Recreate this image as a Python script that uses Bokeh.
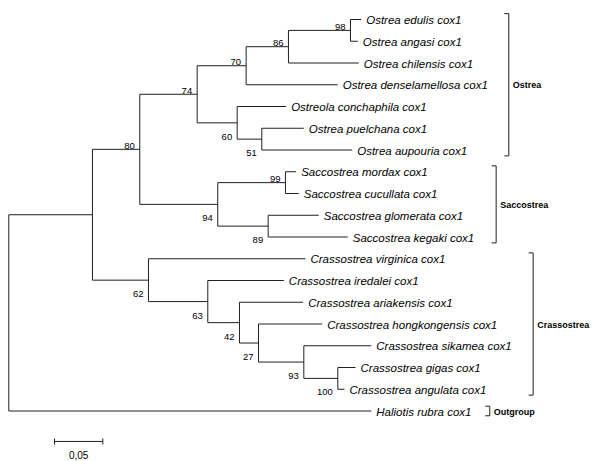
from bokeh.plotting import figure
from bokeh.models import Range1d
from bokeh.core.properties import value
from bokeh.embed import file_html
from bokeh.resources import INLINE

# ---------------- data: tree (preorder), branch lengths, bootstrap ----------------
node_id = [
    "root", "n_in", "n80", "n74", "n70", "n86", "n98",
    "Ostrea edulis cox1", "Ostrea angasi cox1", "Ostrea chilensis cox1",
    "Ostrea denselamellosa cox1", "n60", "Ostreola conchaphila cox1", "n51",
    "Ostrea puelchana cox1", "Ostrea aupouria cox1",
    "n94", "n99", "Saccostrea mordax cox1", "Saccostrea cucullata cox1", "n89",
    "Saccostrea glomerata cox1", "Saccostrea kegaki cox1",
    "n62", "Crassostrea virginica cox1", "n63", "Crassostrea iredalei cox1", "n42",
    "Crassostrea ariakensis cox1", "n27", "Crassostrea hongkongensis cox1", "n93",
    "Crassostrea sikamea cox1", "n100", "Crassostrea gigas cox1",
    "Crassostrea angulata cox1", "Haliotis rubra cox1",
]
parent = [
    None, "root", "n_in", "n80", "n74", "n70", "n86",
    "n98", "n98", "n86",
    "n70", "n74", "n60", "n60",
    "n51", "n51",
    "n80", "n94", "n99", "n99", "n94",
    "n89", "n89",
    "n_in", "n62", "n62", "n63", "n63",
    "n42", "n42", "n27", "n27",
    "n93", "n93", "n100",
    "n100", "root",
]
branch_length = [
    0.0, 0.0866, 0.0490, 0.0594, 0.0507, 0.0438, 0.0642,
    0.0111, 0.0076, 0.0728,
    0.0948, 0.0414, 0.0507, 0.0255,
    0.0435, 0.0936,
    0.0807, 0.0701, 0.0111, 0.0138, 0.0522,
    0.0524, 0.0824,
    0.0580, 0.1625, 0.0614, 0.0787, 0.0328,
    0.0659, 0.0197, 0.0659, 0.0469,
    0.0698, 0.0352, 0.0183,
    0.0069, 0.3752,
]
bootstrap = [
    None, None, 80, 74, 70, 86, 98,
    None, None, None,
    None, 60, None, 51,
    None, None,
    94, 99, None, None, 89,
    None, None,
    62, None, 63, None, 42,
    None, 27, None, 93,
    None, 100, None,
    None, None,
]

clade_name = ["Ostrea", "Saccostrea", "Crassostrea", "Outgroup"]
clade_first = ["Ostrea edulis cox1", "Saccostrea mordax cox1",
               "Crassostrea virginica cox1", "Haliotis rubra cox1"]
clade_last = ["Ostrea aupouria cox1", "Saccostrea kegaki cox1",
              "Crassostrea angulata cox1", "Haliotis rubra cox1"]

scale_bar_length = 0.05

# ---------------- layout (positions / styles) ----------------
PX_PER_UNIT = 966.0
PX_PER_ROW = 21.75
W, H = 600, 461
bracket_x = [0.5176, 0.5045, 0.5428, 0.4979]
bracket_pad = [0.27, 0.27, 0.27, 0.22]
scale_x0 = 0.0473
scale_y = 19.40

# ---------------- compute tree geometry ----------------
children = {n: [] for n in node_id}
for n, pa in zip(node_id, parent):
    if pa is not None:
        children[pa].append(n)

depth = {}
for n, pa, bl in zip(node_id, parent, branch_length):
    depth[n] = 0.0 if pa is None else depth[pa] + bl

ypos = {}
counter = [0]


def place(n):
    if not children[n]:
        ypos[n] = counter[0]
        counter[0] += 1
    else:
        for c in children[n]:
            place(c)
        ypos[n] = (ypos[children[n][0]] + ypos[children[n][-1]]) / 2.0


place("root")

hx0, hx1, hy = [], [], []
for n, pa in zip(node_id, parent):
    if pa is not None:
        hx0.append(depth[pa]); hx1.append(depth[n]); hy.append(ypos[n])
vx, vy0, vy1 = [], [], []
for n in node_id:
    if children[n]:
        vx.append(depth[n]); vy0.append(ypos[children[n][0]]); vy1.append(ypos[children[n][-1]])

leaf_x = [depth[n] for n in node_id if not children[n]]
leaf_y = [ypos[n] for n in node_id if not children[n]]
leaf_t = [n for n in node_id if not children[n]]

bs_up = dict(x=[], y=[], t=[])
bs_dn = dict(x=[], y=[], t=[])
for n, pa, b in zip(node_id, parent, bootstrap):
    if b is None:
        continue
    d = bs_up if children[pa][0] == n else bs_dn
    d["x"].append(depth[n]); d["y"].append(ypos[n]); d["t"].append(str(b))

# ---------------- figure ----------------
x_start = -8.3 / PX_PER_UNIT
y_top = -19.0 / PX_PER_ROW
p = figure(width=W, height=H,
           x_range=Range1d(x_start, x_start + W / PX_PER_UNIT),
           y_range=Range1d(y_top + H / PX_PER_ROW, y_top),
           x_axis_type=None, y_axis_type=None,
           output_backend="svg", toolbar_location=None, min_border=0)
p.grid.visible = False
p.outline_line_color = None
p.background_fill_color = "white"
p.border_fill_color = "white"

LC = "#202020"
p.segment(x0=hx0, y0=hy, x1=hx1, y1=hy, line_color=LC, line_width=1)
p.segment(x0=vx, y0=vy0, x1=vx, y1=vy1, line_color=LC, line_width=1)

p.text(x=leaf_x, y=leaf_y, text=leaf_t, x_offset=5, y_offset=0.5,
       text_font=value("Liberation Sans"), text_font_style="italic",
       text_font_size="11.5px", text_baseline="middle", text_align="left",
       text_color="black")

for d, off in ((bs_up, -3.5), (bs_dn, 14)):
    p.text(x=d["x"], y=d["y"], text=d["t"], x_offset=-5, y_offset=off,
           text_font=value("Liberation Sans"), text_font_size="9.5px",
           text_baseline="alphabetic", text_align="right", text_color="black")

# clade brackets
tick = 4.5 / PX_PER_UNIT
bx0, by0, bx1, by1 = [], [], [], []
lab_x, lab_y = [], []
for name, f, l, bx, pad in zip(clade_name, clade_first, clade_last, bracket_x, bracket_pad):
    top = ypos[f] - pad
    bot = ypos[l] + pad
    bx0 += [bx, bx - tick, bx - tick]
    bx1 += [bx, bx, bx]
    by0 += [top, top, bot]
    by1 += [bot, top, bot]
    lab_x.append(bx); lab_y.append((ypos[f] + ypos[l]) / 2.0)
p.segment(x0=bx0, y0=by0, x1=bx1, y1=by1, line_color=LC, line_width=1)
p.text(x=lab_x, y=lab_y, text=clade_name, x_offset=4, y_offset=0.5,
       text_font=value("Liberation Sans"), text_font_style="bold",
       text_font_size="9px", text_baseline="middle", text_align="left",
       text_color="black")

# scale bar
sb_tick = 3.0 / PX_PER_ROW
sx1 = scale_x0 + scale_bar_length
p.segment(x0=[scale_x0, scale_x0, sx1], y0=[scale_y, scale_y - sb_tick, scale_y - sb_tick],
          x1=[sx1, scale_x0, sx1], y1=[scale_y, scale_y + sb_tick, scale_y + sb_tick],
          line_color=LC, line_width=1)
p.text(x=[(scale_x0 + sx1) / 2.0], y=[scale_y],
       text=[f"{scale_bar_length:.2f}".replace(".", ",")],
       y_offset=14, text_font=value("Liberation Sans"), text_font_size="10px",
       text_baseline="alphabetic", text_align="center", text_color="black")

open("out.html", "w").write(file_html(p, INLINE))
